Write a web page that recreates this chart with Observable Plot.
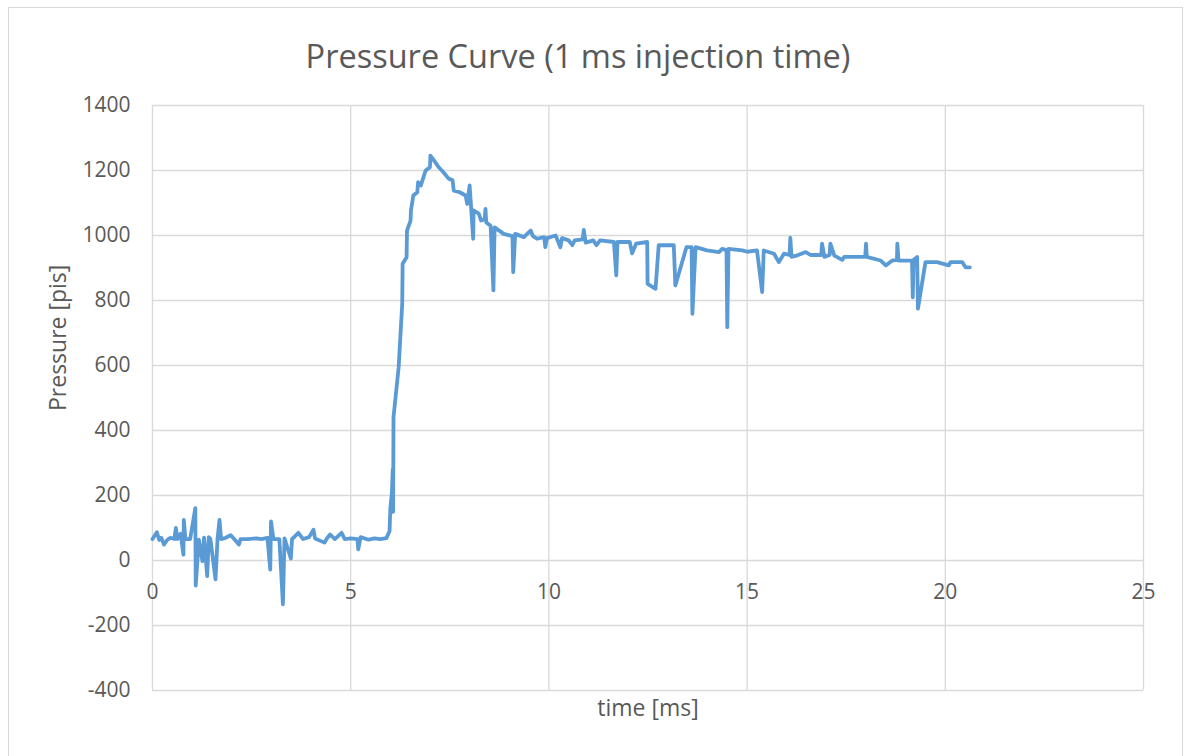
<!DOCTYPE html>
<html>
<head>
<meta charset="utf-8">
<script src="https://cdn.jsdelivr.net/npm/d3@7"></script>
<script src="https://cdn.jsdelivr.net/npm/@observablehq/plot@0.6"></script>
<style>
  html, body { margin: 0; padding: 0; background: #fff; }
  #wrap { position: relative; width: 1185px; height: 756px; overflow: hidden; font-family: "Open Sans", sans-serif; }
  #frame { position: absolute; left: 8px; top: 7px; width: 1175px; height: 770px; border: 1px solid #d9d9d9; box-sizing: border-box; }
  #title { position: absolute; top: 34px; left: 578px; transform: translateX(-50%); white-space: nowrap; font-size: 32.5px; line-height: 44px; color: #595959; font-family: "Open Sans", sans-serif; }
  #chart { position: absolute; left: 0; top: 0; }
</style>
</head>
<body>
<div id="wrap">
  <div id="frame"></div>
  <div id="chart"></div>
  <div id="title">Pressure Curve (1 ms injection time)</div>
</div>
<script>
const titleText = "Pressure Curve (1 ms injection time)";
const xLabel = "time [ms]";
const yLabel = "Pressure [pis]";
const xTicks = [0, 5, 10, 15, 20, 25];
const yTicks = [-400, -200, 0, 200, 400, 600, 800, 1000, 1200, 1400];

const time = [
  0, 0.11, 0.17, 0.22, 0.29, 0.37, 0.45, 0.55, 0.59, 0.63, 0.71, 0.78, 0.79, 0.83, 0.95,
  1.08, 1.09, 1.17, 1.26, 1.3, 1.38, 1.42, 1.46, 1.59, 1.64, 1.69, 1.73, 1.85, 1.97,
  2.06, 2.18, 2.22, 2.4, 2.62, 2.75, 2.9, 2.97, 2.99, 3.05, 3.2, 3.29, 3.33, 3.49, 3.52,
  3.68, 3.8, 3.95, 4.06, 4.1, 4.34, 4.4, 4.48, 4.6, 4.77, 4.85, 5.0, 5.17, 5.19, 5.25,
  5.45, 5.6, 5.75, 5.9, 5.98,
  6.0, 6.04, 6.06, 6.07, 6.08, 6.21, 6.3, 6.31, 6.41, 6.42, 6.51, 6.52, 6.58, 6.68, 6.7,
  6.77, 6.89, 7.0, 7.01, 7.1, 7.22, 7.3, 7.37, 7.47, 7.57, 7.6, 7.75, 7.9, 7.94, 8.0,
  8.09, 8.1, 8.23, 8.29, 8.38, 8.4, 8.42, 8.53, 8.6, 8.63, 8.86, 9.08, 9.1, 9.15, 9.37,
  9.45, 9.54, 9.6, 9.7, 9.88, 9.91, 9.95, 10.17, 10.29, 10.33, 10.5, 10.59, 10.65, 10.85,
  10.88, 10.93, 11.12, 11.2, 11.29, 11.64, 11.7, 11.73, 12.04, 12.1, 12.2, 12.48, 12.49,
  12.69, 12.77, 13.15, 13.19, 13.47, 13.6, 13.62, 13.7, 13.99, 14.29, 14.37, 14.48, 14.5,
  14.53, 14.88, 15.0, 15.25, 15.38, 15.42, 15.68, 15.8, 15.93, 16.07, 16.09, 16.12, 16.27,
  16.48, 16.6, 16.87, 16.89, 16.95, 17.08, 17.1, 17.2, 17.4, 17.45, 17.98, 18.0, 18.02,
  18.37, 18.5, 18.66, 18.78, 18.79, 18.82, 19.16, 19.18, 19.2, 19.29, 19.31, 19.5, 19.79,
  20.09, 20.13, 20.43, 20.51, 20.62
];
const pressure = [
  66, 87, 63, 70, 49, 63, 70, 66, 100, 66, 82, 18, 125, 66, 66,
  161, -77, 64, -2, 70, -48, 72, 66, -58, 66, 125, 66, 70, 78,
  66, 49, 66, 66, 68, 66, 70, -28, 120, 66, 66, -135, 68, 6, 66,
  85, 66, 72, 95, 68, 55, 68, 80, 66, 85, 66, 68, 66, 34, 72,
  64, 68, 66, 69, 90,
  160, 210, 280, 150, 441, 595, 790, 913, 933, 1015, 1046, 1077, 1123, 1133, 1164,
  1154, 1200, 1210, 1246, 1231, 1210, 1200, 1190, 1175, 1170, 1138, 1133, 1123, 1097, 1154,
  990, 1077, 1067, 1046, 1050, 1082, 1040, 1030, 831, 1025, 1005, 998, 887, 1005, 995,
  1005, 1015, 998, 990, 995, 964, 992, 1000, 964, 992, 985, 970, 985, 988,
  1017, 978, 985, 970, 985, 980, 877, 980, 980, 945, 975, 980, 851,
  836, 970, 970, 846, 964, 964, 759, 964, 954, 949, 959, 955, 718,
  959, 954, 950, 954, 826, 954, 944, 918, 944, 940, 993, 934, 939,
  949, 940, 940, 975, 934, 940, 975, 938, 925, 934, 934, 975, 934,
  923, 908, 923, 925, 975, 923, 923, 810, 925, 934, 775, 918, 918,
  908, 918, 918, 902, 902
];

const data = time.map((t, i) => ({t, p: pressure[i]}));
const textColor = "#595959";
const gridColor = "#d9d9d9";

const chart = Plot.plot({
  width: 1185,
  height: 756,
  marginLeft: 152,
  marginRight: 42,
  marginTop: 105,
  marginBottom: 66,
  style: {fontFamily: "Open Sans, sans-serif", background: "transparent", overflow: "visible"},
  x: {domain: [0, 25], axis: null},
  y: {domain: [-400, 1400], axis: null},
  marks: [
    Plot.gridY(yTicks, {stroke: gridColor, strokeOpacity: 1, strokeWidth: 1.3}),
    Plot.gridX(xTicks, {stroke: gridColor, strokeOpacity: 1, strokeWidth: 1.3}),
    Plot.axisY(yTicks, {tickSize: 0, tickPadding: 22, fontSize: 21, fill: textColor, label: null, tickFormat: d => String(d)}),
    Plot.text(xTicks, {x: d => d, y: () => 0, dy: 32, text: d => String(d), fontSize: 21, fill: textColor}),
    Plot.text([xLabel], {frameAnchor: "bottom", dy: 25, text: d => d, fontSize: 23, fill: textColor}),
    Plot.text([yLabel], {frameAnchor: "left", dx: -94, dy: 13, rotate: -90, text: d => d, fontSize: 23, fill: textColor}),
    Plot.line(data, {x: "t", y: "p", stroke: "#5b9bd5", strokeWidth: 3.8, strokeLinejoin: "round", strokeLinecap: "round"})
  ]
});
document.getElementById("chart").appendChild(chart);
document.getElementById("title").textContent = titleText;
</script>
</body>
</html>
